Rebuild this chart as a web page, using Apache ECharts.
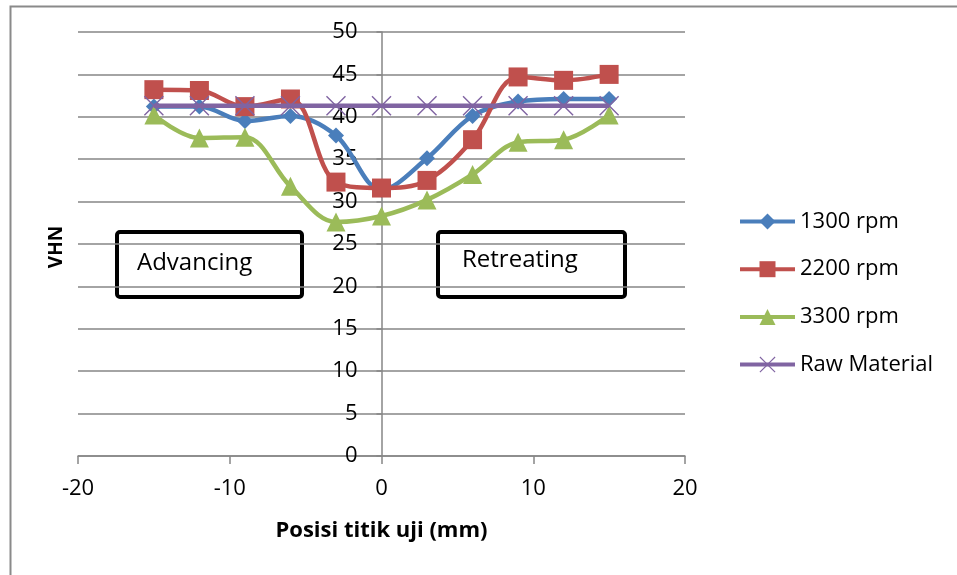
<!DOCTYPE html>
<html>
<head>
<meta charset="utf-8">
<script src="https://cdn.jsdelivr.net/npm/echarts@6/dist/echarts.min.js"></script>
<style>
  html, body { margin: 0; padding: 0; background: #fff; }
  #chart { width: 957px; height: 575px; }
</style>
</head>
<body>
<div id="chart"></div>
<script>
// posisi titik uji (mm)
var positions = [-15, -12, -9, -6, -3, 0, 3, 6, 9, 12, 15]
// kekerasan VHN
var rpm1300 = [41.2, 41.2, 39.5, 40.1, 37.8, 31.4, 35.1, 40.1, 41.8, 42.1, 42.1]
var rpm2200 = [43.2, 43.1, 41.2, 42.1, 32.3, 31.6, 32.5, 37.3, 44.7, 44.3, 45.0]
var rpm3300 = [40.2, 37.5, 37.6, 31.8, 27.6, 28.3, 30.2, 33.2, 37.0, 37.3, 40.2]
var rawMaterial = [41.3, 41.3, 41.3, 41.3, 41.3, 41.3, 41.3, 41.3, 41.3, 41.3, 41.3]
var seriesNames = ['1300 rpm', '2200 rpm', '3300 rpm', 'Raw Material']
var xTicks = [-20, -10, 0, 10, 20]
var yTicks = [0, 5, 10, 15, 20, 25, 30, 35, 40, 45, 50]

var colors = ['#4a7ebb', '#c0504d', '#9bbb59', '#8064a2']
var font = '"Open Sans", Lato, sans-serif'
var gray = '#868686'
var crossPath = 'path://M0,1L1,0L10,9L19,0L20,1L11,10L20,19L19,20L10,11L1,20L0,19L9,10Z'

function pairs(vals) {
  return positions.map(function (p, i) { return [p, vals[i]] })
}

var lists = [rpm1300, rpm2200, rpm3300, rawMaterial]
var symbols = ['diamond', 'rect', 'triangle', crossPath]
var sizes = [16, 19, 19, 20]

var series = lists.map(function (vals, idx) {
  return {
    name: seriesNames[idx],
    type: 'line',
    data: pairs(vals),
    smooth: 0.35,
    symbol: symbols[idx],
    symbolSize: sizes[idx],
    color: colors[idx],
    lineStyle: { width: 4.5, color: colors[idx] },
    itemStyle: { color: colors[idx] },
    z: 2 + idx
  }
})

var chart = echarts.init(document.getElementById('chart'))
chart.setOption({
  animation: false,
  grid: { left: 78, right: 272, top: 32, bottom: 119, containLabel: false },
  legend: {
    orient: 'vertical',
    left: 738,
    top: 209,
    padding: 0,
    itemWidth: 55,
    itemHeight: 20,
    itemGap: 22.7,
    data: seriesNames,
    lineStyle: { width: 4 },
    textStyle: { fontFamily: font, fontSize: 22, color: '#000', lineHeight: 25 }
  },
  xAxis: {
    type: 'value',
    min: xTicks[0],
    max: xTicks[xTicks.length - 1],
    interval: 10,
    name: 'Posisi titik uji (mm)',
    nameLocation: 'middle',
    nameGap: 64,
    nameTextStyle: { fontFamily: font, fontSize: 22, fontWeight: 'bold', color: '#000' },
    axisLine: { onZero: false, lineStyle: { color: gray, width: 1.5 } },
    axisTick: { show: true, length: 8, lineStyle: { color: gray, width: 1.5 } },
    axisLabel: { fontFamily: font, fontSize: 22, color: '#000', margin: 22 },
    splitLine: { show: false }
  },
  yAxis: {
    type: 'value',
    min: yTicks[0],
    max: yTicks[yTicks.length - 1],
    interval: 5,
    position: 'left',
    offset: -303.5,
    axisLine: { show: true, onZero: false, lineStyle: { color: gray, width: 1.5 } },
    axisTick: { show: true, length: 5, lineStyle: { color: gray, width: 1.5 } },
    axisLabel: { fontFamily: font, fontSize: 22, color: '#000', margin: 24 },
    splitLine: { show: true, lineStyle: { color: gray, width: 1.5 } }
  },
  graphic: [
    {
      type: 'rect', left: 8, top: 4, silent: true,
      shape: { width: 960, height: 580 },
      style: { fill: 'none', stroke: '#8a8a8a', lineWidth: 2 }, z: -10
    },
    {
      type: 'text', x: 57, y: 247, rotation: Math.PI / 2,
      style: { text: 'VHN', font: 'bold 19px ' + font, fill: '#000', align: 'center', verticalAlign: 'middle' }
    },
    {
      type: 'group', x: 117, y: 232, z: 50,
      children: [
        { type: 'rect', shape: { x: 0, y: 0, width: 185, height: 65, r: 3 },
          style: { fill: '#fff', stroke: '#000', lineWidth: 4 } },
        { type: 'text', x: 20, y: 31,
          style: { text: 'Advancing', font: '24px ' + font, fill: '#000', verticalAlign: 'middle' } }
      ]
    },
    {
      type: 'group', x: 438, y: 232, z: 50,
      children: [
        { type: 'rect', shape: { x: 0, y: 0, width: 187, height: 65, r: 3 },
          style: { fill: '#fff', stroke: '#000', lineWidth: 4 } },
        { type: 'text', x: 24, y: 28,
          style: { text: 'Retreating', font: '24px ' + font, fill: '#000', verticalAlign: 'middle' } }
      ]
    }
  ],
  series: series
})
</script>
</body>
</html>
